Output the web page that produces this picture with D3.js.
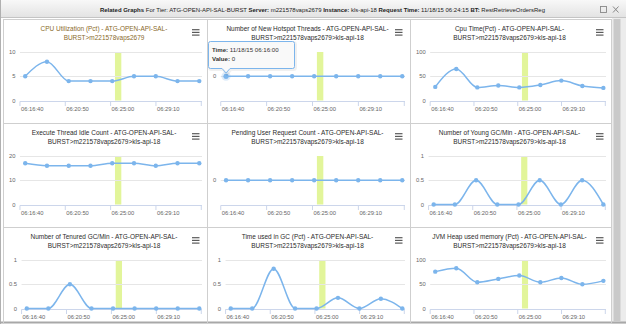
<!DOCTYPE html>
<html><head><meta charset="utf-8">
<script src="https://cdn.jsdelivr.net/npm/d3@7/dist/d3.min.js"></script>
<style>body{margin:0;background:#fff;overflow:hidden}svg{display:block}</style>
</head><body>
<svg id="c" width="626" height="324"></svg>
<script>
// ---------------- data ----------------
const times = ["2015-11-18 06:16:00","2015-11-18 06:18:00","2015-11-18 06:20:00","2015-11-18 06:22:00",
  "2015-11-18 06:24:00","2015-11-18 06:26:00","2015-11-18 06:28:00","2015-11-18 06:30:00","2015-11-18 06:32:00"];
const requestTime = "2015-11-18 06:24:15";
const bandEnd = "2015-11-18 06:24:50";
const axisStart = "2015-11-18 06:15:31";
const axisEnd = "2015-11-18 06:32:15";
const tickLabels = ["06:16:40","06:20:50","06:25:00","06:29:10"];
const tickStepSeconds = 250;

const titles = [
  ["CPU Utilization (Pct) - ATG-OPEN-API-SAL-","BURST>m221578vaps2679"],
  ["Number of New Hotspot Threads - ATG-OPEN-API-SAL-","BURST>m221578vaps2679>kls-api-18"],
  ["Cpu Time(Pct) - ATG-OPEN-API-SAL-","BURST>m221578vaps2679>kls-api-18"],
  ["Execute Thread Idle Count - ATG-OPEN-API-SAL-","BURST>m221578vaps2679>kls-api-18"],
  ["Pending User Request Count - ATG-OPEN-API-SAL-","BURST>m221578vaps2679>kls-api-18"],
  ["Number of Young GC/Min - ATG-OPEN-API-SAL-","BURST>m221578vaps2679>kls-api-18"],
  ["Number of Tenured GC/Min - ATG-OPEN-API-SAL-","BURST>m221578vaps2679>kls-api-18"],
  ["Time used in GC (Pct) - ATG-OPEN-API-SAL-","BURST>m221578vaps2679>kls-api-18"],
  ["JVM Heap used memory (Pct) - ATG-OPEN-API-SAL-","BURST>m221578vaps2679>kls-api-18"]
];

const cpuUtilization = [5, 8, 4, 4, 4, 5, 5, 4, 4];
const newHotspotThreads = [0, 0, 0, 0, 0, 0, 0, 0, 0];
const cpuTime = [28, 65, 27, 31, 27, 32, 41, 30, 26];
const threadIdleCount = [17, 16, 16, 16, 17, 17, 16, 17, 17];
const pendingRequests = [0, 0, 0, 0, 0, 0, 0, 0, 0];
const youngGC = [0, 0, 0.5, 0, 0, 0.5, 0, 0.5, 0];
const tenuredGC = [0, 0, 0.5, 0, 0, 0, 0, 0, 0];
const gcTimePct = [0, 0, 0.82, 0, 0, 0.22, 0, 0.2, 0];
const heapUsed = [76, 83, 54, 61, 68, 54, 63, 50, 57];

const yTicksCpuUtil = [0, 5, 10];
const yTicksZeroOnly = [0];
const yTicksPct = [0, 50, 100];
const yTicksIdle = [0, 10, 20];
const yTicksUnit = [0, 0.5, 1];

const headerParts = [
  ["Related Graphs", true], [" For Tier: ATG-OPEN-API-SAL-BURST ", false],
  ["Server:", true], [" m221578vaps2679 ", false],
  ["Instance:", true], [" kls-api-18 ", false],
  ["Request Time:", true], [" 11/18/15 06:24:15 ", false],
  ["BT:", true], [" RestRetrieveOrdersReg", false]
];

// ---------------- setup ----------------
const parse = d3.timeParse("%Y-%m-%d %H:%M:%S");
const T = times.map(parse);
const charts = [
  {values: cpuUtilization, ticks: yTicksCpuUtil},
  {values: newHotspotThreads, ticks: yTicksZeroOnly},
  {values: cpuTime, ticks: yTicksPct},
  {values: threadIdleCount, ticks: yTicksIdle},
  {values: pendingRequests, ticks: yTicksZeroOnly},
  {values: youngGC, ticks: yTicksUnit},
  {values: tenuredGC, ticks: yTicksUnit},
  {values: gcTimePct, ticks: yTicksUnit},
  {values: heapUsed, ticks: yTicksPct}
].map((c, i) => Object.assign(c, {title: titles[i]}));

const svg = d3.select("#c");
const FONT = "'Liberation Sans', Arial, sans-serif";
const BLUE = "#7cb5ec";

// window frame
const defs = svg.append("defs");
const grad = defs.append("linearGradient").attr("id","hdr").attr("x1",0).attr("x2",0).attr("y1",0).attr("y2",1);
grad.append("stop").attr("offset","0%").attr("stop-color","#f8f8f8");
grad.append("stop").attr("offset","100%").attr("stop-color","#e2e2e2");

svg.append("rect").attr("x",0).attr("y",0).attr("width",626).attr("height",324).attr("fill","#fff");
svg.append("rect").attr("x",0).attr("y",0).attr("width",626).attr("height",18).attr("fill","url(#hdr)");
svg.append("line").attr("x1",0).attr("x2",626).attr("y1",17.5).attr("y2",17.5).attr("stroke","#c4c4c4");

// header text
const hdr = svg.append("text").attr("x",100).attr("y",11.5).attr("font-family",FONT)
  .attr("font-size",6).attr("fill","#222").attr("xml:space","preserve");
headerParts.forEach(([t,b]) => hdr.append("tspan").text(t).attr("font-weight", b ? "bold" : "normal"));
hdr.attr("textLength",445).attr("lengthAdjust","spacingAndGlyphs");
// header icons
svg.append("rect").attr("x",600.5).attr("y",6.5).attr("width",6).attr("height",6).attr("fill","none").attr("stroke","#888").attr("stroke-width",0.9);
svg.append("path").attr("d","M613,6.5 L618.5,12.5 M618.5,6.5 L613,12.5").attr("stroke","#888").attr("stroke-width",1);

// scrollbar
svg.append("rect").attr("x",612).attr("y",18).attr("width",14).attr("height",306).attr("fill","#ececec");
svg.append("rect").attr("x",613.5).attr("y",19).attr("width",7).attr("height",302).attr("fill","#c9c9c9");
// outer borders
svg.append("line").attr("x1",0.5).attr("x2",0.5).attr("y1",0).attr("y2",324).attr("stroke","#b0b0b0");
svg.append("line").attr("x1",0).attr("x2",626).attr("y1",322.5).attr("y2",322.5).attr("stroke","#a8a8a8").attr("stroke-width",2);

// ---------------- panels ----------------
const colX = [3.5, 207.5, 410.5], colR = [207.5, 410.5, 611.5], rowY = [19.5, 123.5, 227.5];

// fit title font size
const probe = svg.append("text").attr("font-family",FONT).attr("font-size",10).text(titles[0][0]);
const titleSize = 10 * 127 / probe.node().getComputedTextLength();
probe.remove();
const AX = 5.8;

const fmtY = d3.format("~g");
const fmtTip = d3.timeFormat("%m/%d/%y %H:%M:%S");

charts.forEach((ch, i) => {
  const c = i % 3, r = Math.floor(i / 3);
  const px = colX[c], pr = colR[c], py = rowY[r];
  const g = svg.append("g");
  // panel border
  g.append("rect").attr("x",px).attr("y",py).attr("width",pr-px).attr("height",330-py)
    .attr("fill","none").attr("stroke","#cfcfcf");

  // title
  const tx = (px + pr) / 2 - 1.5;
  ch.title.forEach((line, k) => {
    g.append("text").attr("x",tx).attr("y",py + 11.6 + k * 8.4).attr("text-anchor","middle")
      .attr("font-family",FONT).attr("font-size",titleSize).attr("fill", i === 0 ? "#8a6a2a" : "#2b2b2b")
      .text(line);
  });
  // hamburger
  [10.2, 12.9, 15.6].forEach(dy => g.append("line").attr("x1",pr-15.5).attr("x2",pr-8)
    .attr("y1",py+dy).attr("y2",py+dy).attr("stroke","#5a5a5a").attr("stroke-width",1.2));

  // y scale
  const single = ch.ticks.length === 1;
  const top = py + 32.5, bottom = py + 81;
  const y = d3.scaleLinear().domain(single ? [-1, 1] : [0, d3.max(ch.ticks)]).range([bottom, top]);

  // y labels (measure width)
  const yl = g.selectAll(".yl").data(ch.ticks).join("text")
    .attr("font-family",FONT).attr("font-size",AX).attr("fill","#666")
    .attr("text-anchor","end").attr("dy","0.35em").text(d => fmtY(d));
  const maxW = d3.max(yl.nodes(), n => n.getComputedTextLength());
  const left = px + 5.5 + maxW + 4.5, right = pr - 5.5;
  yl.attr("x", left - 4.5).attr("y", d => y(d));

  const x = d3.scaleTime().domain([parse(axisStart), parse(axisEnd)]).range([left, right]);

  // plot band
  g.append("rect").attr("x",x(parse(requestTime))).attr("y",top)
    .attr("width",x(parse(bandEnd)) - x(parse(requestTime))).attr("height",bottom - top)
    .attr("fill","#e2f59a");

  // grid lines
  g.selectAll(".gl").data(ch.ticks).join("line")
    .attr("x1",left).attr("x2",right).attr("y1",d => Math.round(y(d))+0.5).attr("y2",d => Math.round(y(d))+0.5)
    .attr("stroke","#e6e6e6");
  // x axis line
  const yb = Math.round(bottom) + 0.5;
  g.append("line").attr("x1",left).attr("x2",right).attr("y1",yb).attr("y2",yb).attr("stroke","#ccd6eb");

  // x ticks + labels
  const s0 = parse(axisStart);
  const tickTimes = d3.range(0, 5).map(k => d3.timeSecond.offset(s0, k * tickStepSeconds));
  g.selectAll(".xt").data(tickTimes).join("line")
    .attr("x1",d => x(d)).attr("x2",d => x(d)).attr("y1",yb).attr("y2",yb + 4.5).attr("stroke","#ccd6eb");
  g.selectAll(".xl").data(tickLabels).join("text")
    .attr("x",(d,k) => x(tickTimes[k]) + 1).attr("y",bottom + 10.5)
    .attr("font-family",FONT).attr("font-size",AX).attr("fill","#666").text(d => d);

  // series
  const line = d3.line().x((d,k) => x(T[k])).y(d => y(d)).curve(d3.curveMonotoneX);
  g.append("path").attr("d", line(ch.values)).attr("fill","none").attr("stroke",BLUE).attr("stroke-width",1.5);
  g.selectAll(".pt").data(ch.values).join("circle")
    .attr("cx",(d,k) => x(T[k])).attr("cy",d => y(d)).attr("r",2.2).attr("fill",BLUE);

  // tooltip on hotspot chart
  if (i === 1) {
    const hx = x(T[0]), hy = y(ch.values[0]);
    g.append("circle").attr("cx",hx).attr("cy",hy).attr("r",4.6).attr("fill",BLUE).attr("fill-opacity",0.25);
    g.append("circle").attr("cx",hx).attr("cy",hy).attr("r",2.6).attr("fill",BLUE);
    const bx = px + 1, by = 41.5, bw = 86, bh = 27, tip = hy - 3.3;
    const p = d3.path();
    p.moveTo(bx + 2, by); p.lineTo(bx + bw - 2, by); p.quadraticCurveTo(bx + bw, by, bx + bw, by + 2);
    p.lineTo(bx + bw, by + bh - 2); p.quadraticCurveTo(bx + bw, by + bh, bx + bw - 2, by + bh);
    p.lineTo(hx + 4, by + bh); p.lineTo(hx, tip); p.lineTo(hx - 4, by + bh);
    p.lineTo(bx + 2, by + bh); p.quadraticCurveTo(bx, by + bh, bx, by + bh - 2);
    p.lineTo(bx, by + 2); p.quadraticCurveTo(bx, by, bx + 2, by); p.closePath();
    g.append("path").attr("d",p.toString()).attr("fill","none").attr("stroke","#000").attr("stroke-opacity",0.06)
      .attr("stroke-width",3).attr("transform","translate(1,1)");
    g.append("path").attr("d",p.toString()).attr("fill","rgba(249,249,249,0.92)").attr("stroke",BLUE).attr("stroke-width",1);
    const t1 = g.append("text").attr("x",bx + 3.5).attr("y",by + 10.6).attr("font-family",FONT).attr("font-size",6.1).attr("fill","#333");
    t1.append("tspan").attr("font-weight","bold").text("Time:");
    t1.append("tspan").text(" " + fmtTip(T[0]));
    const t2 = g.append("text").attr("x",bx + 3.5).attr("y",by + 19).attr("font-family",FONT).attr("font-size",6.1).attr("fill","#333");
    t2.append("tspan").attr("font-weight","bold").text("Value:");
    t2.append("tspan").text(" " + ch.values[0]);
  }
});
</script>
</body></html>
